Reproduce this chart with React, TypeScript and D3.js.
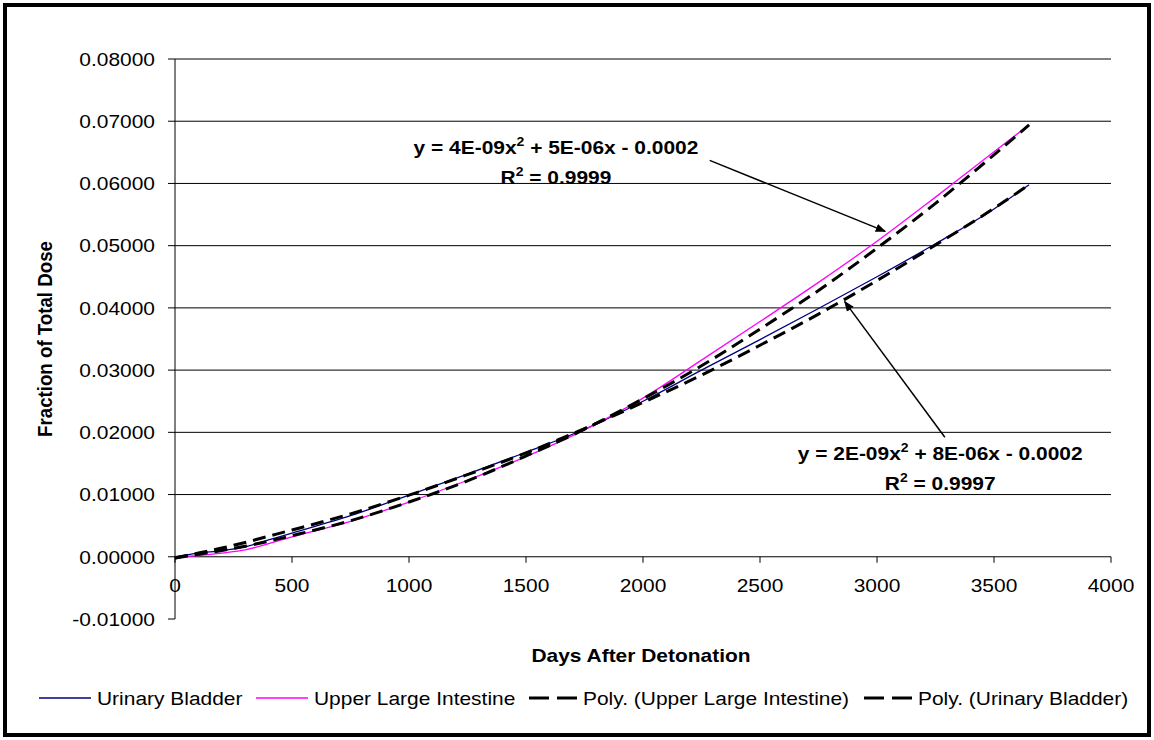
import * as d3 from "d3";

// days after detonation (sample points)
const days = [0, 100, 200, 300, 400, 500, 750, 1000, 1250, 1500, 1750, 2000, 2250, 2500, 2750, 3000, 3250, 3500, 3650];
const urinaryBladder = [0, 0.0006, 0.001, 0.0016, 0.0027, 0.0038, 0.0066, 0.0099, 0.0133, 0.0168, 0.0205, 0.025, 0.03, 0.0349, 0.0399, 0.045, 0.0503, 0.0559, 0.0598];
const upperLargeIntestine = [0, 0.0002, 0.0006, 0.0011, 0.0021, 0.0032, 0.0057, 0.0088, 0.0123, 0.0161, 0.0204, 0.0255, 0.0316, 0.0378, 0.0441, 0.0507, 0.0578, 0.0651, 0.0694];
// dashed poly trendlines at the same days
const polyUpperLargeIntestine = [-0.0002, 0.0004, 0.001, 0.0017, 0.0025, 0.0034, 0.0058, 0.0088, 0.0122, 0.0162, 0.0205, 0.0254, 0.0307, 0.0366, 0.0428, 0.0496, 0.0568, 0.0646, 0.0694];
const polyUrinaryBladder = [-0.0002, 0.0006, 0.0014, 0.0023, 0.0033, 0.0043, 0.0069, 0.0099, 0.0132, 0.0167, 0.0206, 0.0248, 0.0292, 0.034, 0.039, 0.0444, 0.0501, 0.056, 0.0598];

const xTicks = [0, 500, 1000, 1500, 2000, 2500, 3000, 3500, 4000];
const yTicks = [-0.01, 0, 0.01, 0.02, 0.03, 0.04, 0.05, 0.06, 0.07, 0.08];

const legendItems = [
    { label: "Urinary Bladder", color: "#000080", dashed: false, x: 39 },
    { label: "Upper Large Intestine", color: "#ff00ff", dashed: false, x: 256 },
    { label: "Poly. (Upper Large Intestine)", color: "#000", dashed: true, x: 529 },
    { label: "Poly. (Urinary Bladder)", color: "#000", dashed: true, x: 864 },
];

// trendline labels (anchored in data coords), arrow from -> to
const annotations = [
    { a: "4E-09", b: "5E-06", c: "0.0002", r2: "0.9999", tx: 1628, ty: 0.0647, from: [2285, 0.0637], to: [3035, 0.0523] },
    { a: "2E-09", b: "8E-06", c: "0.0002", r2: "0.9997", tx: 3270, ty: 0.0156, from: [3290, 0.0192], to: [2862, 0.041] },
];

const font = "Arial, 'Liberation Sans', sans-serif";
const fs = 18.7;
const SX = 1.12; // text in the original is a little wide

const T = ({ x, y, anchor = "start", bold = false, size = fs, dy = "0", children }: any) => (
    <text
        transform={`translate(${x},${y}) scale(${SX},1)`}
        textAnchor={anchor}
        fontWeight={bold ? "bold" : "normal"}
        fontSize={size}
        dy={dy}
    >
        {children}
    </text>
);

const App = () => {
    const width = 1154;
    const height = 740;

    const xScale = d3.scaleLinear().domain([0, 4000]).range([175, 1111]);
    const yScale = d3.scaleLinear().domain([-0.01, 0.08]).range([619, 59]);

    const line = d3
        .line<[number, number]>()
        .x((d) => xScale(d[0]))
        .y((d) => yScale(d[1]))
        .curve(d3.curveMonotoneX);

    const pts = (vals: number[]) => days.map((d, i) => [d, vals[i]] as [number, number]);

    const x0 = xScale(0);
    const y0 = yScale(0);

    return (
        <div style={{ position: "absolute", left: 0, top: 0 }}>
            <svg width={width} height={height} style={{ display: "block", fontFamily: font }}>
                <defs>
                    <marker id="arr" viewBox="0 0 10 10" refX="9" refY="5" markerWidth="7" markerHeight="7" orient="auto">
                        <path d="M0,1 L10,5 L0,9 z" fill="#000" />
                    </marker>
                </defs>
                <rect x={0} y={0} width={width} height={height} fill="#fff" />
                <rect x={5} y={5} width={1144} height={730} fill="none" stroke="#000" strokeWidth={4} />

                {/* gridlines */}
                {yTicks.filter((t) => t > 0).map((t) => (
                    <line key={t} x1={x0} x2={xScale(4000)} y1={yScale(t)} y2={yScale(t)} stroke="#000" strokeWidth={1} />
                ))}

                {/* y axis */}
                <line x1={x0} x2={x0} y1={yScale(0.08)} y2={yScale(-0.01)} stroke="#000" />
                {yTicks.map((t) => (
                    <g key={t}>
                        <line x1={x0 - 7} x2={x0} y1={yScale(t)} y2={yScale(t)} stroke="#000" />
                        <T x={155} y={yScale(t)} dy="0.36em" anchor="end">
                            {t.toFixed(5)}
                        </T>
                    </g>
                ))}

                {/* x axis at y = 0 */}
                <line x1={x0} x2={xScale(4000)} y1={y0} y2={y0} stroke="#000" />
                {xTicks.map((t) => (
                    <g key={t}>
                        <line x1={xScale(t)} x2={xScale(t)} y1={y0} y2={y0 + 6} stroke="#000" />
                        <T x={xScale(t)} y={y0 + 35} anchor="middle">
                            {t}
                        </T>
                    </g>
                ))}

                {/* series */}
                <path d={line(pts(urinaryBladder)) ?? ""} fill="none" stroke="#000080" strokeWidth={1.3} />
                <path d={line(pts(upperLargeIntestine)) ?? ""} fill="none" stroke="#ff00ff" strokeWidth={1.3} />
                <path d={line(pts(polyUpperLargeIntestine)) ?? ""} fill="none" stroke="#000" strokeWidth={3} strokeDasharray="13,7" />
                <path d={line(pts(polyUrinaryBladder)) ?? ""} fill="none" stroke="#000" strokeWidth={3} strokeDasharray="13,7" />

                {/* trendline labels */}
                {annotations.map((a, i) => (
                    <g key={i}>
                        <T x={xScale(a.tx)} y={yScale(a.ty)} anchor="middle" bold>
                            <tspan>{`y = ${a.a}x`}</tspan>
                            <tspan fontSize={12.5} dy={-8}>2</tspan>
                            <tspan dy={8}>{` + ${a.b}x - ${a.c}`}</tspan>
                        </T>
                        <T x={xScale(a.tx)} y={yScale(a.ty) + 30} anchor="middle" bold>
                            <tspan>R</tspan>
                            <tspan fontSize={12.5} dy={-8}>2</tspan>
                            <tspan dy={8}>{` = ${a.r2}`}</tspan>
                        </T>
                        <line
                            x1={xScale(a.from[0])}
                            y1={yScale(a.from[1])}
                            x2={xScale(a.to[0])}
                            y2={yScale(a.to[1])}
                            stroke="#000"
                            strokeWidth={1.5}
                            markerEnd="url(#arr)"
                        />
                    </g>
                ))}

                {/* axis titles */}
                <T x={641} y={662} anchor="middle" bold>
                    Days After Detonation
                </T>
                <text
                    transform={`translate(52,339) scale(${SX},1) rotate(-90)`}
                    textAnchor="middle"
                    fontWeight="bold"
                    fontSize={fs}
                >
                    Fraction of Total Dose
                </text>

                {/* legend */}
                {legendItems.map((l) => (
                    <g key={l.label} transform={`translate(${l.x},698)`}>
                        {l.dashed ? (
                            <line x1={0} x2={48} y1={0} y2={0} stroke={l.color} strokeWidth={3} strokeDasharray="20,8" />
                        ) : (
                            <line x1={0} x2={52} y1={0} y2={0} stroke={l.color} strokeWidth={1.5} />
                        )}
                        <T x={l.dashed ? 54 : 58} y={0} dy="0.36em">
                            {l.label}
                        </T>
                    </g>
                ))}
            </svg>
        </div>
    );
};

export default App;
